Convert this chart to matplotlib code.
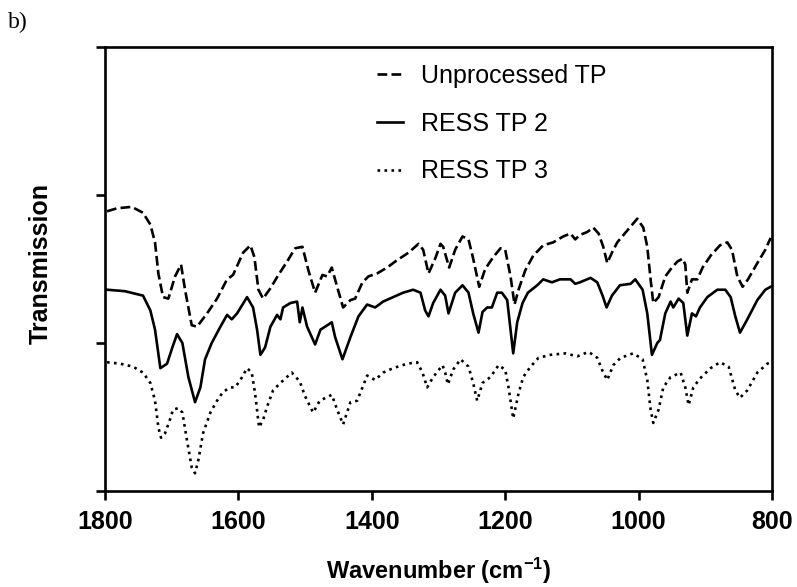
import matplotlib
matplotlib.use("Agg")
import matplotlib.pyplot as plt

plt.rcParams['font.family'] = ['Liberation Sans', 'DejaVu Sans']
plt.rcParams['mathtext.fontset'] = 'custom'
plt.rcParams['mathtext.rm'] = 'Liberation Sans:bold'
plt.rcParams['mathtext.bf'] = 'Liberation Sans:bold'
plt.rcParams['mathtext.default'] = 'bf'

# ---- data (wavenumber cm^-1, transmission in arbitrary units) ----
unproc_wn = [1797, 1782, 1760, 1743, 1732, 1725, 1720, 1713, 1705, 1695, 1686, 1680, 1670, 1662,
             1647, 1632, 1617, 1608, 1593, 1582, 1576, 1570, 1563, 1552, 1540, 1527, 1515, 1504,
             1495, 1485, 1474, 1467, 1460, 1452, 1443, 1432, 1425, 1414, 1405, 1392, 1377, 1362,
             1345, 1330, 1323, 1315, 1305, 1297, 1293, 1284, 1275, 1264, 1255, 1248, 1239, 1230,
             1218, 1207, 1200, 1192, 1186, 1180, 1170, 1158, 1143, 1128, 1113, 1102, 1095, 1088,
             1077, 1068, 1060, 1053, 1047, 1040, 1032, 1017, 1002, 993, 987, 982, 978, 970, 960,
             950, 942, 934, 930, 927, 920, 912, 904, 892, 878, 867, 860, 852, 844, 836, 822, 810, 802]
unproc_t = [1.89, 1.91, 1.92, 1.88, 1.80, 1.68, 1.47, 1.31, 1.30, 1.45, 1.53, 1.36, 1.12, 1.11,
            1.20, 1.30, 1.43, 1.46, 1.61, 1.66, 1.58, 1.36, 1.30, 1.37, 1.46, 1.55, 1.64, 1.65,
            1.49, 1.34, 1.46, 1.45, 1.51, 1.38, 1.24, 1.29, 1.30, 1.41, 1.45, 1.47, 1.51, 1.56,
            1.61, 1.67, 1.63, 1.47, 1.57, 1.67, 1.65, 1.51, 1.63, 1.72, 1.70, 1.57, 1.38, 1.50,
            1.58, 1.64, 1.63, 1.45, 1.26, 1.36, 1.49, 1.59, 1.66, 1.68, 1.72, 1.74, 1.70, 1.73,
            1.75, 1.78, 1.74, 1.65, 1.54, 1.61, 1.68, 1.76, 1.84, 1.78, 1.65, 1.43, 1.27, 1.31, 1.45,
            1.51, 1.55, 1.57, 1.53, 1.34, 1.43, 1.43, 1.51, 1.59, 1.66, 1.68, 1.63, 1.45, 1.38, 1.43, 1.54, 1.63, 1.71]

ress2_wn = [1797, 1770, 1743, 1732, 1725, 1717, 1707, 1699, 1692, 1684, 1675, 1665, 1657, 1650,
            1640, 1627, 1617, 1610, 1602, 1587, 1578, 1572, 1567, 1560, 1552, 1542, 1537, 1533,
            1522, 1512, 1508, 1504, 1497, 1485, 1477, 1470, 1460, 1455, 1444, 1432, 1420, 1407,
            1395, 1383, 1368, 1353, 1338, 1327, 1320, 1315, 1308, 1297, 1290, 1285, 1275, 1264,
            1255, 1248, 1240, 1234, 1227, 1220, 1212, 1205, 1197, 1192, 1188, 1182, 1174, 1166,
            1152, 1143, 1130, 1118, 1102, 1095, 1088, 1072, 1062, 1054, 1048, 1040, 1028, 1012,
            1005, 994, 987, 980, 972, 968, 960, 952, 948, 940, 933, 927, 920, 914, 908, 897, 882,
            870, 862, 855, 848, 837, 822, 810, 802]
ress2_t = [1.36, 1.35, 1.32, 1.22, 1.09, 0.83, 0.86, 0.97, 1.06, 1.00, 0.77, 0.60, 0.70, 0.89,
           1.00, 1.11, 1.19, 1.16, 1.20, 1.31, 1.24, 1.09, 0.92, 0.97, 1.11, 1.19, 1.16, 1.24,
           1.27, 1.28, 1.14, 1.24, 1.11, 0.99, 1.09, 1.11, 1.14, 1.04, 0.89, 1.04, 1.18, 1.26,
           1.24, 1.28, 1.31, 1.34, 1.36, 1.34, 1.22, 1.18, 1.27, 1.36, 1.32, 1.20, 1.34, 1.39,
           1.34, 1.20, 1.07, 1.21, 1.24, 1.24, 1.34, 1.34, 1.29, 1.09, 0.93, 1.14, 1.27, 1.34,
           1.39, 1.43, 1.41, 1.43, 1.43, 1.40, 1.41, 1.44, 1.41, 1.32, 1.24, 1.32, 1.39, 1.40,
           1.43, 1.36, 1.20, 0.92, 1.00, 1.02, 1.20, 1.28, 1.24, 1.30, 1.27, 1.05, 1.20, 1.18, 1.24, 1.31, 1.36,
           1.36, 1.31, 1.18, 1.07, 1.16, 1.29, 1.36, 1.38]

ress3_wn = [1797, 1777, 1758, 1743, 1732, 1725, 1720, 1716, 1710, 1702, 1698, 1690, 1684, 1677,
            1670, 1665, 1660, 1653, 1642, 1632, 1623, 1612, 1605, 1597, 1587, 1580, 1575, 1569,
            1563, 1557, 1548, 1537, 1520, 1508, 1500, 1488, 1478, 1460, 1452, 1443, 1432, 1422,
            1414, 1407, 1395, 1383, 1368, 1347, 1332, 1324, 1317, 1308, 1294, 1290, 1286, 1278,
            1267, 1255, 1248, 1242, 1234, 1222, 1210, 1200, 1195, 1190, 1188, 1180, 1173, 1162,
            1150, 1132, 1110, 1092, 1075, 1062, 1054, 1047, 1038, 1027, 1008, 994, 987, 982, 978,
            970, 963, 952, 937, 930, 925, 918, 908, 892, 878, 865, 855, 848, 837, 822, 807, 802]
ress3_t = [0.87, 0.86, 0.84, 0.80, 0.73, 0.61, 0.43, 0.36, 0.39, 0.49, 0.55, 0.56, 0.53, 0.34,
           0.16, 0.12, 0.21, 0.39, 0.53, 0.61, 0.67, 0.70, 0.70, 0.75, 0.83, 0.80, 0.66, 0.43,
           0.48, 0.57, 0.68, 0.73, 0.80, 0.74, 0.64, 0.53, 0.61, 0.65, 0.55, 0.45, 0.60, 0.61,
           0.70, 0.78, 0.75, 0.80, 0.83, 0.86, 0.87, 0.80, 0.70, 0.77, 0.85, 0.80, 0.72, 0.82,
           0.89, 0.84, 0.73, 0.61, 0.73, 0.77, 0.85, 0.82, 0.70, 0.55, 0.49, 0.66, 0.77, 0.84,
           0.90, 0.92, 0.93, 0.91, 0.94, 0.90, 0.81, 0.75, 0.85, 0.90, 0.93, 0.89, 0.75, 0.55, 0.46,
           0.55, 0.70, 0.77, 0.80, 0.70, 0.58, 0.70, 0.76, 0.83, 0.87, 0.84, 0.68, 0.63, 0.68, 0.80, 0.86, 0.87]

labels = ["Unprocessed TP", "RESS TP 2", "RESS TP 3"]
x_ticks = [1800, 1600, 1400, 1200, 1000, 800]
y_ticks = [0, 1, 2, 3]

fig = plt.figure(figsize=(7.97, 5.87), dpi=100)
ax = fig.add_axes([105/797, 1 - 491/587, 667/797, 444/587])

lw = 1.9
ax.plot(unproc_wn, unproc_t, color='black', lw=lw, linestyle='--', label=labels[0])
ax.plot(ress2_wn, ress2_t, color='black', lw=lw, linestyle='-', label=labels[1])
ax.plot(ress3_wn, ress3_t, color='black', lw=lw, linestyle=':', label=labels[2])

ax.set_xlim(1800, 800)
ax.set_ylim(0, 3)
ax.set_xticks(x_ticks)
ax.set_xticklabels([str(v) for v in x_ticks], fontsize=18, fontweight='bold')
ax.set_yticks(y_ticks)
ax.set_yticklabels([])
ax.tick_params(axis='both', direction='out', length=6.5, width=1.9, pad=7)
for s in ax.spines.values():
    s.set_linewidth(1.9)

ax.set_xlabel("Wavenumber (cm$^{-1}$)", fontsize=17, fontweight='bold')
ax.xaxis.set_label_coords(0.5, -0.147)
ax.set_ylabel("Transmission", fontsize=18, fontweight='bold')
ax.yaxis.set_label_coords(-0.079, 0.513)

leg = ax.legend(loc='upper left', bbox_to_anchor=(0.408, 0.962), frameon=False,
                fontsize=18, handlelength=1.05, handletextpad=0.7, labelspacing=0.95,
                borderpad=0, borderaxespad=0)

fig.text(8/797, 1 - 22/587, "b)", fontsize=17, family='Liberation Serif', va='center', ha='left')

fig.savefig("out.png", dpi=100)
